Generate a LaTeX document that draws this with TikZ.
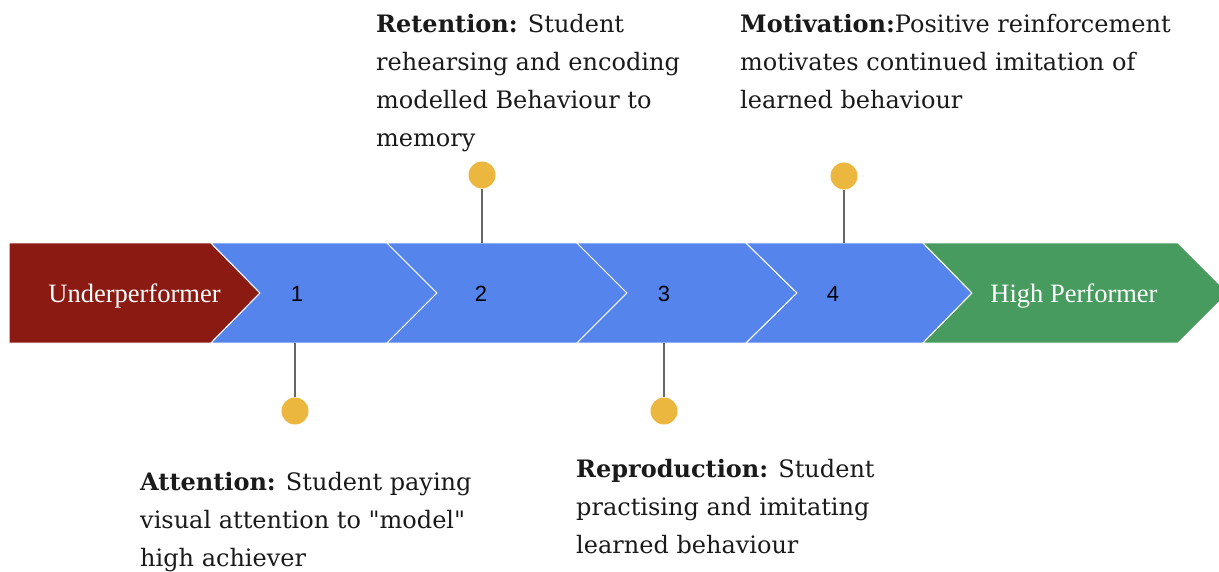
\documentclass[tikz,border=0pt]{standalone}
\usepackage{fontspec}
\setmainfont{DejaVu Serif}
\newfontfamily\chevfont{Liberation Serif}
\newfontfamily\numfont{Liberation Sans}
\definecolor{redc}{HTML}{8B1B12}
\definecolor{bluec}{HTML}{5484EC}
\definecolor{greenc}{HTML}{479B5E}
\definecolor{dotc}{HTML}{EBB73F}
\definecolor{stemc}{HTML}{666666}
\definecolor{txtc}{HTML}{1A1A1A}
\tikzset{
  chev/.style={draw=white, line width=1pt, line join=miter},
  chevlabel/.style={text=white, font=\chevfont\fontsize{26.5}{30}\selectfont, inner sep=0pt, anchor=base},
  numlabel/.style={text=black, font=\numfont\fontsize{22}{24}\selectfont, inner sep=0pt, anchor=base},
  dot/.style={circle, fill=dotc, minimum size=27pt, inner sep=0pt},
  stem/.style={draw=stemc, line width=1.4pt},
  desc/.style={text=txtc, font=\fontsize{24}{38}\selectfont, align=left, inner sep=0pt, anchor=north west}
}
\begin{document}
\begin{tikzpicture}[x=1pt,y=-1pt]
\useasboundingbox (0,0) rectangle (1219,572);
% chevrons
\fill[redc, chev] (9,243) -- (211,243) -- (260,293) -- (211,343) -- (9,343) -- cycle;
\fill[bluec, chev] (211,243) -- (387,243) -- (437,293) -- (387,343) -- (211,343) -- (260,293) -- cycle;
\fill[bluec, chev] (387,243) -- (577,243) -- (627,293) -- (577,343) -- (387,343) -- (437,293) -- cycle;
\fill[bluec, chev] (577,243) -- (746,243) -- (797,293) -- (746,343) -- (577,343) -- (627,293) -- cycle;
\fill[bluec, chev] (746,243) -- (923,243) -- (972,293) -- (923,343) -- (746,343) -- (797,293) -- cycle;
\fill[greenc, chev] (923,243) -- (1178,243) -- (1228,293) -- (1178,343) -- (923,343) -- (972,293) -- cycle;
% chevron labels
\node[chevlabel] (under) at (134.5,302.5) {Underperformer};
\node[chevlabel] (high) at (1074,302) {High Performer};
\node[numlabel] (n1) at (297,301.5) {1};
\node[numlabel] (n2) at (481,301.5) {2};
\node[numlabel] (n3) at (664,301.5) {3};
\node[numlabel] (n4) at (833,301.5) {4};
% dots and stems
\node[dot] (d1) at (295,411) {};
\node[dot] (d2) at (482,175) {};
\node[dot] (d3) at (664,411) {};
\node[dot] (d4) at (844,176) {};
\coordinate (s1) at (295,343);
\coordinate (s2) at (482,243);
\coordinate (s3) at (664,343);
\coordinate (s4) at (844,243);
\draw[stem] (s1) -- (d1);
\draw[stem] (s2) -- (d2);
\draw[stem] (s3) -- (d3);
\draw[stem] (s4) -- (d4);
% descriptions
\node[desc] (ret) at (376,5.4) {\strut\textbf{Retention:} Student\\rehearsing and encoding\\modelled Behaviour to\\memory};
\node[desc] (mot) at (740,5.4) {\strut\textbf{Motivation:}Positive reinforcement\\motivates continued imitation of\\learned behaviour};
\node[desc] (att) at (140,463.4) {\strut\textbf{Attention:} Student paying\\visual attention to \textquotedbl model\textquotedbl\\high achiever};
\node[desc] (rep) at (576,450.4) {\strut\textbf{Reproduction:} Student\\practising and imitating\\learned behaviour};
\end{tikzpicture}
\end{document}
